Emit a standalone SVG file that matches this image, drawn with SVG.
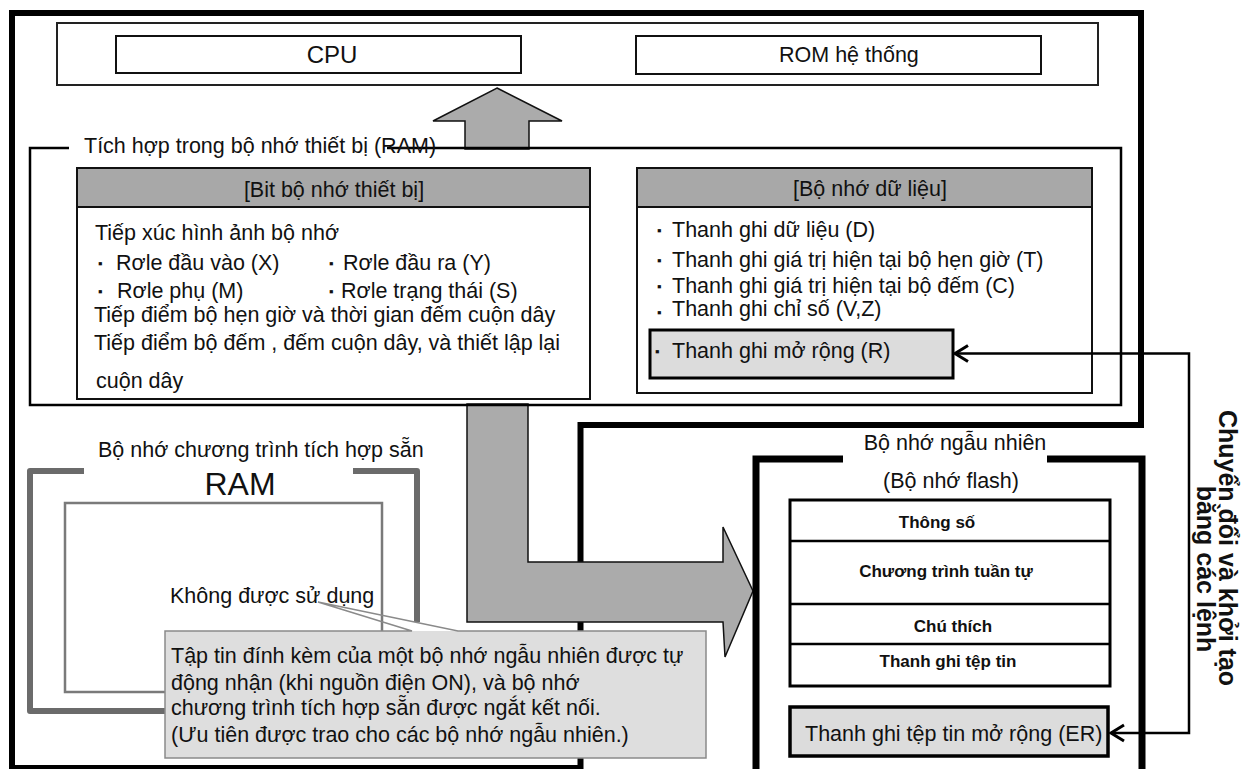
<svg xmlns="http://www.w3.org/2000/svg" width="1255" height="769" viewBox="0 0 1255 769">
<style>
text{font-family:"Liberation Sans",Arial,sans-serif;fill:#111;}
.t21{font-size:21.5px;}
.b{font-size:13px;}
.stk{font-size:17px;font-weight:bold;}
.thin{fill:#fff;stroke:#111;stroke-width:2;}
.gray-arrow{fill:#ababab;stroke:#111;stroke-width:1.5;stroke-linejoin:miter;}
.hdr{fill:#a8a8a8;stroke:#111;stroke-width:2;}
.thick{fill:none;stroke:#000;stroke-width:6;}
.conn{fill:none;stroke:#000;stroke-width:2.5;}
</style>
<defs>
<marker id="chev" markerUnits="userSpaceOnUse" markerWidth="20" markerHeight="20" viewBox="-16 -10 20 20" refX="0" refY="0" orient="auto-start-reverse">
<path d="M-13,-8 L0,0 L-13,8" fill="none" stroke="#000" stroke-width="3"/>
</marker>
</defs>

<g id="outer-frame">
<path class="thick" d="M12,768 V13 H1141 V425 H580.5 V768 Z"/>
</g>

<g id="system-box">
<rect x="57" y="23" width="1041" height="62" fill="#fff" stroke="#222" stroke-width="2"/>
<g id="cpu">
<rect class="thin" x="116" y="36" width="405" height="37"/>
<text x="332" y="63" font-size="24" text-anchor="middle">CPU</text>
</g>
<g id="rom">
<rect class="thin" x="636" y="36" width="405" height="38"/>
<text class="t21" x="779" y="62">ROM hệ thống</text>
</g>
</g>

<g id="transfer-arrows">
<polygon class="gray-arrow" points="497,88 562,121 529,121 529,149 465,149 465,121 433,121"/>
<polygon class="gray-arrow" points="467,404 528,404 528,562 723,562 723,527 753,591 725,657 723,622 467,622"/>
</g>

<g id="device-ram">
<path d="M69,148 H30 V405 H1121 V148 H387" fill="none" stroke="#000" stroke-width="2.5"/>
<text class="t21" x="84" y="153">Tích hợp trong bộ nhớ thiết bị (RAM)</text>
</g>

<g id="bit-memory">
<rect class="thin" x="77" y="168" width="513" height="231"/>
<rect class="hdr" x="77" y="168" width="513" height="39"/>
<text class="t21" x="334" y="197" text-anchor="middle">[Bit bộ nhớ thiết bị]</text>
<text class="t21" x="95" y="240">Tiếp xúc hình ảnh bộ nhớ</text>
<text class="t21"><tspan class="b" x="98" y="268">▪</tspan><tspan x="116" y="270">Rơle đầu vào (X)</tspan></text>
<text class="t21"><tspan class="b" x="329" y="268">▪</tspan><tspan x="343" y="270">Rơle đầu ra (Y)</tspan></text>
<text class="t21"><tspan class="b" x="98" y="296">▪</tspan><tspan x="117" y="298">Rơle phụ (M)</tspan></text>
<text class="t21"><tspan class="b" x="329" y="296">▪</tspan><tspan x="341" y="298">Rơle trạng thái (S)</tspan></text>
<text class="t21" x="94" y="322">Tiếp điểm bộ hẹn giờ và thời gian đếm cuộn dây</text>
<text class="t21" x="94" y="350">Tiếp điểm bộ đếm , đếm cuộn dây, và thiết lập lại</text>
<text class="t21" x="96" y="388">cuộn dây</text>
</g>

<g id="data-memory">
<rect class="thin" x="637" y="168" width="455" height="225"/>
<rect class="hdr" x="637" y="168" width="455" height="39"/>
<text class="t21" x="870" y="196" text-anchor="middle">[Bộ nhớ dữ liệu]</text>
<text class="t21"><tspan class="b" x="657" y="235">▪</tspan><tspan x="672" y="237">Thanh ghi dữ liệu (D)</tspan></text>
<text class="t21"><tspan class="b" x="657" y="265">▪</tspan><tspan x="672" y="267">Thanh ghi giá trị hiện tại bộ hẹn giờ (T)</tspan></text>
<text class="t21"><tspan class="b" x="657" y="291">▪</tspan><tspan x="672" y="293">Thanh ghi giá trị hiện tại bộ đếm (C)</tspan></text>
<text class="t21"><tspan class="b" x="657" y="317">▪</tspan><tspan x="672" y="316">Thanh ghi chỉ số (V,Z)</tspan></text>
</g>

<g id="extended-register-r">
<rect x="650" y="330" width="303" height="48" fill="#dcdcdc" stroke="#000" stroke-width="3"/>
<text class="t21"><tspan class="b" x="655" y="356">▪</tspan><tspan x="672" y="358">Thanh ghi mở rộng (R)</tspan></text>
</g>

<g id="program-ram">
<text class="t21" x="98" y="457">Bộ nhớ chương trình tích hợp sẵn</text>
<path d="M84,471 H30 V711 H170 M353,471 H417 V622" fill="none" stroke="#6b6b6b" stroke-width="6" stroke-linejoin="round"/>
<text x="240" y="495" font-size="32" text-anchor="middle">RAM</text>
<rect x="65" y="503" width="317" height="189" fill="none" stroke="#7a7a7a" stroke-width="2.5"/>
<text class="t21" x="170" y="603">Không được sử dụng</text>
</g>

<g id="random-memory">
<path d="M843,459 H756 V775 M1047,459 H1142 V775" fill="none" stroke="#000" stroke-width="7"/>
<text class="t21" x="955" y="450" text-anchor="middle">Bộ nhớ ngẫu nhiên</text>
<text class="t21" x="951" y="488" text-anchor="middle">(Bộ nhớ flash)</text>
</g>

<g id="flash-stack">
<rect x="790" y="500" width="320" height="186" fill="#fff" stroke="#000" stroke-width="3"/>
<line x1="790" y1="541" x2="1110" y2="541" stroke="#000" stroke-width="2.5"/>
<line x1="790" y1="604" x2="1110" y2="604" stroke="#000" stroke-width="2.5"/>
<line x1="790" y1="644" x2="1110" y2="644" stroke="#000" stroke-width="2.5"/>
<text class="stk" x="937" y="528" text-anchor="middle">Thông số</text>
<text class="stk" x="946" y="577" text-anchor="middle">Chương trình tuần tự</text>
<text class="stk" x="953" y="632" text-anchor="middle">Chú thích</text>
<text class="stk" x="948" y="667" text-anchor="middle">Thanh ghi tệp tin</text>
</g>

<g id="extended-register-er">
<rect x="790" y="707" width="318" height="49" fill="#dcdcdc" stroke="#000" stroke-width="3.5"/>
<text class="t21" x="805" y="741">Thanh ghi tệp tin mở rộng (ER)</text>
</g>

<g id="callout">
<rect x="165" y="631" width="541" height="127" fill="#dedede"/>
<path d="M412,631 H165 V758 H706 V631 H458 L318,602 Z" fill="none" stroke="#8a8a8a" stroke-width="1.5"/>
<text class="t21" x="171" y="663">Tập tin đính kèm của một bộ nhớ ngẫu nhiên được tự</text>
<text class="t21" x="171" y="690">động nhận (khi nguồn điện ON), và bộ nhớ</text>
<text class="t21" x="171" y="715">chương trình tích hợp sẵn được ngắt kết nối.</text>
<text class="t21" x="171" y="742">(Ưu tiên được trao cho các bộ nhớ ngẫu nhiên.)</text>
</g>

<g id="connectors">
<path class="conn" d="M1111,733 H1189 V353.5 H955" marker-start="url(#chev)" marker-end="url(#chev)"/>
</g>

<g id="command-label">
<text transform="translate(1219,548) rotate(90)" font-size="25" font-weight="bold" text-anchor="middle">Chuyển đổi và khởi tạo</text>
<text transform="translate(1197,569) rotate(90)" font-size="25" font-weight="bold" text-anchor="middle">bằng các lệnh</text>
</g>
</svg>
